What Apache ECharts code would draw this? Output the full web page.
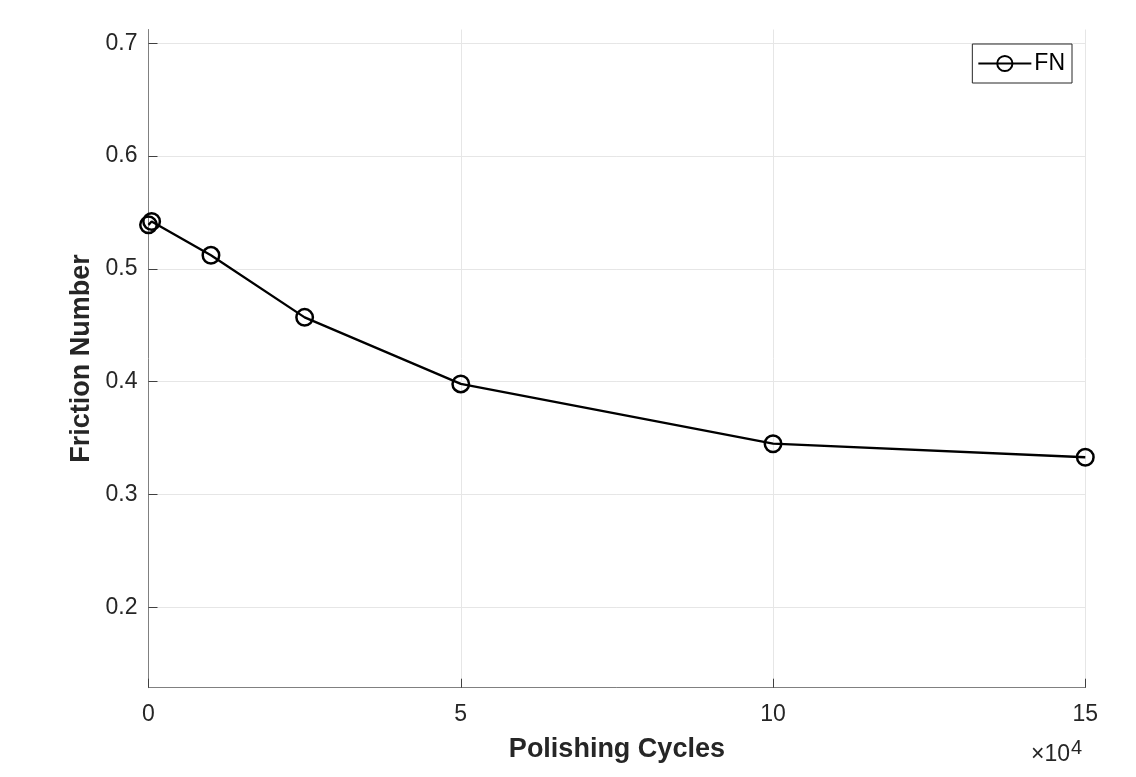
<!DOCTYPE html>
<html><head><meta charset="utf-8">
<script src="https://cdn.jsdelivr.net/npm/echarts@6/dist/echarts.min.js"></script>
<style>html,body{margin:0;padding:0;background:#fff}#c{width:1136px;height:777px}</style>
</head><body><div id="c"></div>
<script>
const cycles = [0, 500, 10000, 25000, 50000, 100000, 150000];
const frictionNumber = [0.539, 0.542, 0.512, 0.457, 0.398, 0.345, 0.333];
const yTicks = [0.2, 0.3, 0.4, 0.5, 0.6, 0.7];
const xTicks = [0, 50000, 100000, 150000];
const seriesName = 'FN';
const exponentBase = '×10';
const exponent = '4';
const font = '"Liberation Sans", Arial, sans-serif';

const chart = echarts.init(document.getElementById('c'), null, {renderer: 'canvas'});
chart.setOption({
  animation: false,
  backgroundColor: '#fff',
  grid: {left: 148.5, top: 29.5, right: 50.7, bottom: 89.3, containLabel: false},
  legend: {
    data: [seriesName], right: 64, top: 44, orient: 'vertical',
    itemWidth: 53, itemHeight: 19, itemGap: 0,
    padding: [8, 7, 8, 5],
    borderColor: '#262626', borderWidth: 1, backgroundColor: '#fff',
    textStyle: {fontFamily: font, fontSize: 23, color: '#000', padding: [0,0,0,-2]}
  },
  xAxis: {
    type: 'value', min: 0, max: 150000, interval: 50000,
    name: 'Polishing Cycles', nameLocation: 'middle', nameGap: 48,
    nameTextStyle: {fontFamily: font, fontSize: 27, fontWeight: 'bold', color: '#262626'},
    axisLine: {show: true, onZero: false, lineStyle: {color: '#808080', width: 1}},
    axisTick: {show: true, inside: true, length: 9, lineStyle: {color: '#404040'}},
    axisLabel: {fontFamily: font, fontSize: 23, color: '#262626', margin: 15,
      formatter: v => String(v / 10000)},
    splitLine: {show: true, lineStyle: {color: '#e6e6e6', width: 1}}
  },
  yAxis: {
    type: 'value', min: 0.1287, max: 0.7122,
    name: 'Friction Number', nameLocation: 'middle', nameGap: 52,
    nameTextStyle: {fontFamily: font, fontSize: 27, fontWeight: 'bold', color: '#262626'},
    axisLine: {show: true, onZero: false, lineStyle: {color: '#808080', width: 1}},
    axisTick: {show: true, inside: true, length: 9, customValues: yTicks, lineStyle: {color: '#404040'}},
    axisLabel: {fontFamily: font, fontSize: 23, color: '#262626', margin: 11, customValues: yTicks,
      formatter: v => v.toFixed(1)},
    splitLine: {show: false}
  },
  series: [{
    name: seriesName, type: 'line',
    data: cycles.map((c, i) => [c, frictionNumber[i]]),
    symbol: 'circle', symbolSize: 16.5, showAllSymbol: true,
    itemStyle: {color: 'rgba(255,255,255,0)', borderColor: '#000', borderWidth: 2.5},
    lineStyle: {color: '#000', width: 2.3},
    z: 3,
    markLine: {
      silent: true, symbol: ['none', 'none'], label: {show: false},
      lineStyle: {color: '#e6e6e6', width: 1, type: 'solid'},
      data: yTicks.map(v => ({yAxis: v})), z: 0
    }
  }],
  graphic: [
    {type: 'text', left: 1031, top: 743, z: 10,
     style: {text: exponentBase, fill: '#262626', font: '23px ' + font}},
    {type: 'text', left: 1071, top: 738, z: 10,
     style: {text: exponent, fill: '#262626', font: '20px ' + font}}
  ]
});
</script></body></html>
